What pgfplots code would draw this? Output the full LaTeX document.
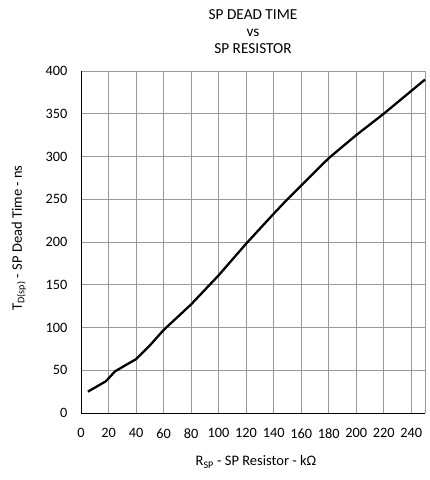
\documentclass[border=0pt]{standalone}
\usepackage{pgfplots}
\pgfplotsset{compat=1.18}
\usepackage{fontspec}
\setmainfont{Carlito}
\begin{document}
\begin{tikzpicture}[x=1pt,y=1pt]
\useasboundingbox (0,0) rectangle (430,480);
\begin{axis}[
  at={(81pt,67pt)}, anchor=south west,
  scale only axis, width=344pt, height=342pt,
  xmin=0, xmax=250, ymin=0, ymax=400,
  xtick={0,20,...,240}, ytick={0,50,...,400},
  extra x ticks={250}, extra x tick labels={},
  grid=major, major grid style={gray!80, line width=0.7pt},
  axis lines=left, axis line style={black, line width=0.9pt, -},
  major tick length=0pt,
  /pgf/number format/assume math mode=true,
  ticklabel style={font=\fontsize{14.3}{16}\selectfont},
  xticklabel style={yshift=-12pt},
  yticklabel style={xshift=-10pt},
  clip=false,
]
\addplot[black, line width=2.3pt, line join=round] coordinates {
 (5,25) (18,37) (22,44) (25,49) (40,63) (50,79) (60,97) (80,127)
 (100,161) (120,198) (140,233) (150,250) (160,266) (180,298)
 (200,325) (220,350) (250,390)
};
\end{axis}
\node[align=center, font=\fontsize{15.3}{17}\selectfont] at (253,448) {SP DEAD TIME\\vs\\SP RESISTOR};
\node[font=\fontsize{14.5}{16}\selectfont] at (256,18) {R\textsubscript{SP} - SP Resistor - kΩ};
\node[rotate=90, font=\fontsize{14.5}{16}\selectfont] at (19,242) {T\textsubscript{D(sp)} - SP Dead Time - ns};
\end{tikzpicture}
\end{document}
